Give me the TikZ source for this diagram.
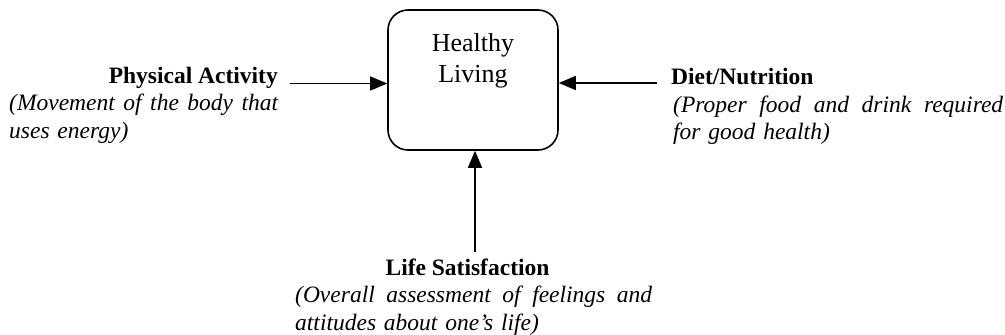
\documentclass[tikz,border=0pt]{standalone}
\usepackage{fontspec}
\setmainfont{Liberation Serif}
\usetikzlibrary{arrows.meta}
\tikzset{
  conn/.style={line width=1.6pt, -{Triangle[length=17pt,width=14pt]}},
  mainbox/.style={draw, line width=1.6pt, rounded corners=20pt,
    minimum width=170pt, minimum height=140pt, inner sep=0pt},
  title/.style={inner sep=0pt, font=\fontsize{23.5}{27.5}\selectfont\bfseries},
  desc/.style={inner sep=0pt, align=left, font=\fontsize{23.5}{27.5}\selectfont\itshape},
}
% a line whose word spaces stretch to fill the given width
\newcommand{\jline}[2]{\hbox to #1{\spaceskip=\fontdimen2\font plus 1fil\relax #2}}
\begin{document}
\begin{tikzpicture}[x=1pt,y=1pt]
  \useasboundingbox (0,0) rectangle (1005,-335);

  % central concept
  \node[mainbox] (box) at (473,-80) {};
  \node[anchor=north, inner sep=0pt, align=center,
        font=\fontsize{26}{31}\selectfont] (hl) at (473,-33.2) {Healthy\\Living};

  % left factor
  \node[title, anchor=base east] (pa) at (278,-83) {Physical Activity};
  \node[desc, anchor=base west, text width=269pt] (pad) at (9,-110.5)
    {\jline{269pt}{(Movement of the body that}\\uses energy)};

  % right factor
  \node[title, anchor=base west] (dn) at (671,-84.5) {Diet/Nutrition};
  \node[desc, anchor=base west, text width=330pt] (dnd) at (673,-112)
    {\jline{330pt}{(Proper food and drink required}\\for good health)};

  % bottom factor
  \node[title, anchor=base] (ls) at (467.5,-275) {Life Satisfaction};
  \node[desc, anchor=base west, text width=357pt] (lsd) at (295,-302.5)
    {\jline{357pt}{(Overall assessment of feelings and}\\attitudes about one’s life)};

  % connectors into the central box
  \coordinate (pastart) at (290,-83.5);
  \coordinate (dnstart) at (657,-83);
  \coordinate (lsstart) at (475,-252);
  \draw[conn] (pastart) -- (pastart -| box.west);
  \draw[conn] (dnstart) -- (dnstart -| box.east);
  \draw[conn] (lsstart) -- (lsstart |- box.south);
\end{tikzpicture}
\end{document}
